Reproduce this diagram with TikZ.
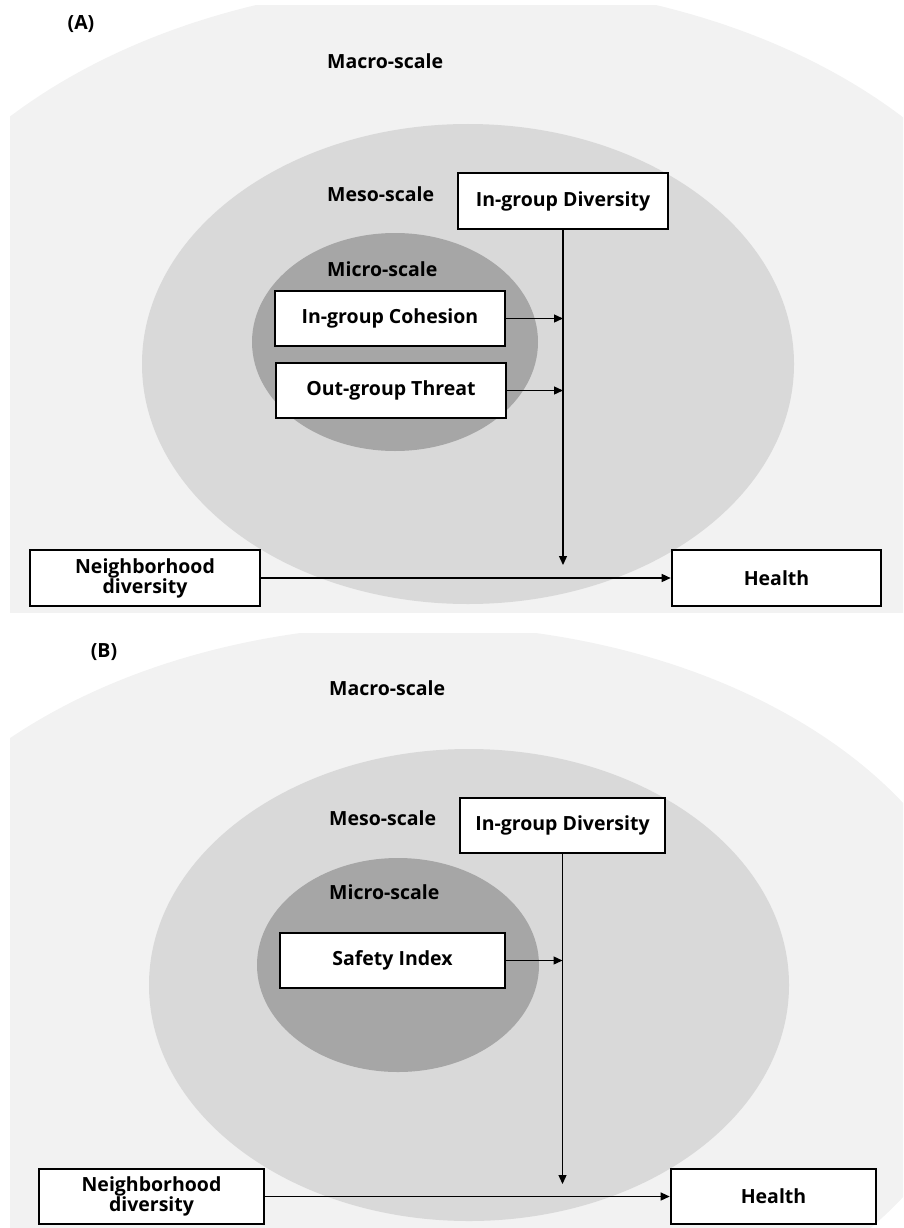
\documentclass[tikz,border=0pt]{standalone}
\usepackage{fontspec}
\setmainfont{Open Sans}
\usepackage{tikz}
\usetikzlibrary{positioning, arrows.meta}
\definecolor{macrogray}{HTML}{F2F2F2}
\definecolor{mesogray}{HTML}{D9D9D9}
\definecolor{microgray}{HTML}{A6A6A6}
\tikzset{
    x=1pt, y=-1pt, % pixel-like units, y grows downwards
    >={Triangle[length=9pt, width=8pt]}, % small filled arrow heads
    varbox/.style={draw, line width=2.6pt, fill=white, align=center, font=\fontsize{19.5}{20}\selectfont\bfseries, inner sep=0pt}, % the variable boxes
    scalelabel/.style={anchor=west, font=\fontsize{19.5}{20}\selectfont\bfseries, inner sep=0pt}, % Macro/Meso/Micro texts
    panellabel/.style={font=\fontsize{19.5}{20}\selectfont\bfseries, inner sep=0pt}, % (A), (B)
    link/.style={->, line width=1.3pt}, % the arrows
}

\begin{document}
\begin{tikzpicture}
    \useasboundingbox (0,0) rectangle (903,1228);

    % panel (A)
    \begin{scope}
        \clip (10,6) rectangle (903,612);
        \fill[macrogray] (456,380) ellipse [x radius=595, y radius=398];
    \end{scope}
    \fill[mesogray] (468,364) ellipse [x radius=326, y radius=240];
    \fill[microgray] (395,342) ellipse [x radius=143, y radius=109];
    \node[panellabel] (labA) at (81,24) {(A)};
    \node[scalelabel] (macroA) at (327,61) {Macro-scale};
    \node[scalelabel] (mesoA) at (327,194) {Meso-scale};
    \node[scalelabel] (microA) at (327,269) {Micro-scale};
    \node[varbox, minimum width=210, minimum height=56] (divA) at (563,201) {In-group Diversity};
    \node[varbox, minimum width=230, minimum height=55] (cohA) at (390,318.5) {In-group Cohesion};
    \node[varbox, minimum width=230, minimum height=55] (thrA) at (391,390.5) {Out-group Threat};
    \node[varbox, minimum width=230, minimum height=56] (nbhA) at (145,578) {Neighborhood\\diversity};
    \node[varbox, minimum width=209, minimum height=56] (hlthA) at (776.5,578) {Health};
    \coordinate (tipA) at (divA.south |- 0,565);
    \draw[link] (divA.south) -- (tipA);
    \draw[link] (cohA.east) -- (divA.south |- cohA.east);
    \draw[link] (thrA.east) -- (divA.south |- thrA.east);
    \draw[link] (nbhA.east) -- (hlthA.west);

    % panel (B)
    \begin{scope}
        \clip (10,633) rectangle (903,1228);
        \fill[macrogray] (418,1000) ellipse [x radius=570, y radius=375];
    \end{scope}
    \fill[mesogray] (469,985) ellipse [x radius=320, y radius=236];
    \fill[microgray] (398,965) ellipse [x radius=141, y radius=107];
    \node[panellabel] (labB) at (104,652) {(B)};
    \node[scalelabel] (macroB) at (329,688) {Macro-scale};
    \node[scalelabel] (mesoB) at (329,818) {Meso-scale};
    \node[scalelabel] (microB) at (329,892) {Micro-scale};
    \node[varbox, minimum width=205, minimum height=55] (divB) at (562.5,825.5) {In-group Diversity};
    \node[varbox, minimum width=225, minimum height=55] (safB) at (392.5,960.5) {Safety Index};
    \node[varbox, minimum width=225, minimum height=55] (nbhB) at (151.5,1196.5) {Neighborhood\\diversity};
    \node[varbox, minimum width=205, minimum height=55] (hlthB) at (773.5,1196.5) {Health};
    \coordinate (tipB) at (divB.south |- 0,1184);
    \draw[link] (divB.south) -- (tipB);
    \draw[link] (safB.east) -- (divB.south |- safB.east);
    \draw[link] (nbhB.east) -- (hlthB.west);
\end{tikzpicture}
\end{document}
